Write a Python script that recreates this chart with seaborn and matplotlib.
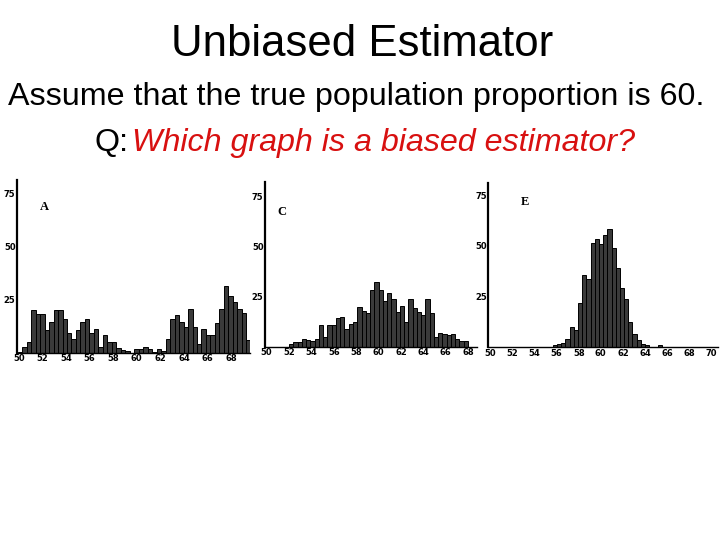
import numpy as np
import seaborn as sns
import matplotlib.pyplot as plt

# histogram counts (bin width ~0.38)
bin_width = 0.38

a_start = 50.1
a_counts = [0.6, 3, 5, 20.5, 18.5, 18.5, 11, 14.5, 20.5, 20.5, 16, 9.5, 6.5, 11, 14.5,
            16, 9.5, 11.5, 3, 8.5, 5, 5, 2.2, 1.4, 1, 0, 2, 2, 3, 2, 0.6, 2, 1, 6.4, 16,
            18, 14.5, 12.4, 20.6, 12.4, 4.2, 11.5, 8.3, 8.3, 14, 20.6, 31.6, 27, 24.2,
            20.6, 18.7, 6]

c_start = 52.2
c_counts = [1.3, 2.5, 2.5, 3.7, 3.3, 2.8, 3.7, 10.8, 5, 10.8, 10.8, 14.2, 15, 8.7, 11.3,
            12.5, 19.7, 18, 16.7, 28.3, 32, 28.3, 22.5, 26.7, 23.7, 17.5, 20.3, 12.5,
            23.7, 19.2, 17.5, 15.8, 23.7, 17, 4.7, 7, 6.3, 5.8, 6.3, 3.7, 3, 2.7]

e_start = 55.84
e_counts = [1.2, 1.6, 2.3, 3.9, 9.9, 8.6, 22, 35.7, 33.6, 51.3, 53.6, 51, 55.4, 58.2,
            48.8, 39, 29.1, 23.7, 12.2, 6.4, 3.6, 1.6, 1, 0, 0, 1]

panel_labels = ['A', 'C', 'E']
x_ticks = [[50, 52, 54, 56, 58, 60, 62, 64, 66, 68],
           [50, 52, 54, 56, 58, 60, 62, 64, 66, 68],
           [50, 52, 54, 56, 58, 60, 62, 64, 66, 68, 70]]
y_ticks = [25, 50, 75]

sns.set_style('white')
plt.rcParams['font.family'] = ['Liberation Sans', 'DejaVu Sans']
plt.rcParams['text.color'] = 'black'
plt.rcParams['xtick.color'] = 'black'
plt.rcParams['ytick.color'] = 'black'

fig = plt.figure(figsize=(7.2, 5.4), dpi=100)

# slide text
fig.text(0.503, 0.917, 'Unbiased Estimator', ha='center', va='center', fontsize=31.5)
fig.text(0.495, 0.82, 'Assume that the true population proportion is 60.',
         ha='center', va='center', fontsize=23.2)
fig.text(0.178, 0.735, 'Q:', ha='right', va='center', fontsize=23.2)
fig.text(0.183, 0.735, 'Which graph is a biased estimator?', ha='left', va='center',
         fontsize=23.2, style='italic', color='#d81010')

# panel boxes [left, bottom, width, height] in figure fractions
boxes = [[0.0236, 0.3463, 0.3236, 0.3204],
         [0.368, 0.358, 0.294, 0.305],
         [0.678, 0.357, 0.319, 0.304]]
xlims = [(49.85, 69.6), (49.85, 68.75), (49.8, 70.6)]
ylims = [81.6, 82, 81]
starts = [a_start, c_start, e_start]
all_counts = [a_counts, c_counts, e_counts]
letter_pos = [(0.1, 0.827), (0.06, 0.8), (0.14, 0.866)]

for i in range(3):
    ax = fig.add_axes(boxes[i])
    counts = np.array(all_counts[i])
    centers = starts[i] + bin_width * np.arange(len(counts))
    sns.histplot(x=centers, weights=counts, binwidth=bin_width,
                 binrange=(centers[0] - bin_width / 2, centers[-1] + bin_width / 2),
                 color='#3a3a3a', edgecolor='black', linewidth=0.7, alpha=1, ax=ax)
    ax.set_xlim(*xlims[i])
    ax.set_ylim(0, ylims[i])
    ax.set_xticks(x_ticks[i])
    ax.set_yticks(y_ticks)
    ax.tick_params(length=0, pad=1, labelsize=6)
    for lab in ax.get_xticklabels() + ax.get_yticklabels():
        lab.set_fontweight('bold')
        lab.set_family('DejaVu Sans')
    ax.set_xlabel('')
    ax.set_ylabel('')
    sns.despine(ax=ax)
    ax.spines['left'].set_linewidth(1.6)
    ax.spines['bottom'].set_linewidth(1.0)
    ax.spines['left'].set_color('black')
    ax.spines['bottom'].set_color('black')
    ax.patch.set_alpha(0)
    ax.text(letter_pos[i][0], letter_pos[i][1], panel_labels[i], transform=ax.transAxes,
            fontsize=9, fontweight='bold', family='Liberation Serif')

fig.savefig('out.png', dpi=100)
